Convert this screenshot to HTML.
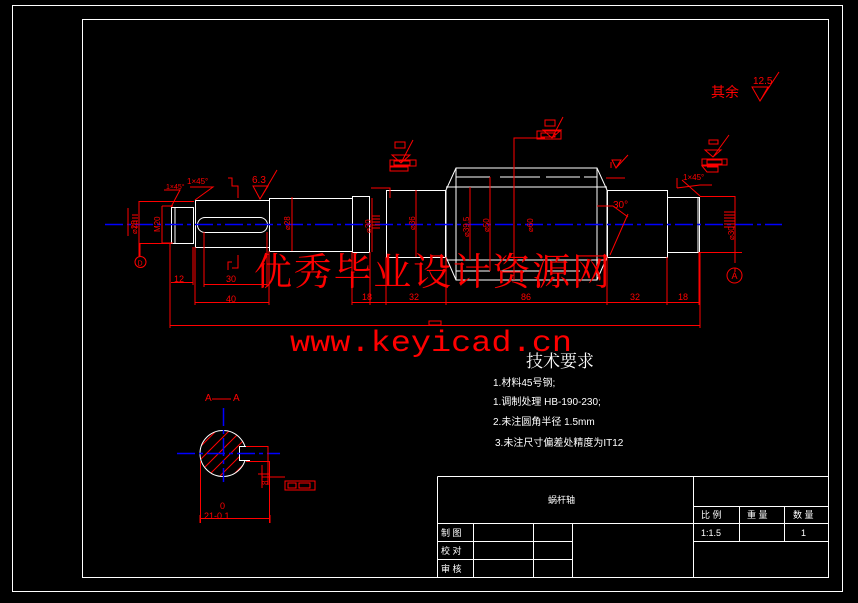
<!DOCTYPE html>
<html><head><meta charset="utf-8"><style>
html,body{margin:0;padding:0;background:#000;}
svg{display:block}
</style></head><body>
<svg width="858" height="603" viewBox="0 0 858 603" xmlns="http://www.w3.org/2000/svg" font-family="Liberation Sans, Noto Sans CJK SC, sans-serif">
<defs><clipPath id="cc"><circle cx="223" cy="453.5" r="23"/></clipPath></defs>
<rect width="858" height="603" fill="#000"/>
<g fill="none" stroke="#fff" stroke-width="1">
<rect x="12.5" y="5.5" width="830" height="586"/>
<rect x="82.5" y="19.5" width="746" height="558"/>
<path d="M437.5 476.5H828.5M437.5 476.5V577M693.5 476.5V577M693.5 506.5H828.5M437.5 523.5H828.5M437.5 541.5H572.5M437.5 559.5H572.5M693.5 541.5H828.5M473.5 523.5V577M533.5 523.5V577M572.5 523.5V577M739.5 506.5V541.5M784.5 506.5V541.5"/>
<rect x="171.5" y="207.5" width="22" height="36"/>
<path d="M175 207V243"/>
<rect x="195.5" y="200.5" width="74" height="47"/>
<rect x="197.5" y="217.5" width="70" height="15" rx="7.5"/>
<rect x="269.5" y="198.5" width="83" height="53"/>
<rect x="352.5" y="196.5" width="17" height="56"/>
<rect x="386.5" y="190.5" width="59" height="67"/>
<path d="M446 190L456 168H597L607 190V257L597 280H456L446 257Z"/>
<path d="M456 168V280M597 168V280M446 187H607M446 260H607"/>
<path d="M456 177H490M500 177H540M546 177H580M584 177H597M456 271H490M500 271H540M546 271H580"/>
<rect x="607.5" y="190.5" width="60" height="67"/>
<rect x="667.5" y="197.5" width="32" height="55"/>
<path d="M698 197V252"/>
</g>
<g clip-path="url(#cc)" stroke="#f00" stroke-width="1">
<path d="M190 470L230 430M190 482L242 430M195 489L250 434M205 491L252 444M215 493L255 453M225 495L258 462M185 462L220 427"/>
</g>
<circle cx="223" cy="453.5" r="23" fill="none" stroke="#fff"/>
<rect x="239.5" y="446.5" width="10" height="14" fill="#000" stroke="#fff"/>
<rect x="247" y="447" width="6" height="13" fill="#000"/>
<g stroke="#00f" stroke-width="1.5" stroke-dasharray="18 4 4 4">
<line x1="105" y1="224.5" x2="782" y2="224.5"/>
<line x1="177" y1="453.5" x2="280" y2="453.5"/>
<line x1="223.5" y1="408" x2="223.5" y2="482"/>
</g>
<g fill="none" stroke="#f00" stroke-width="1">
<path d="M246 446.5H268V449M246 461.5H270M268 449V461"/>
<path d="M268 462V485M262 465V488M258 474H270M262 477H285M285 481H315V490H285ZM288 483H296V488H288ZM299 483H310V488H299Z"/>
<path d="M200.5 461V523M269.5 461V523M200 518.5H270M200 515V523M270 515V523"/>
<path d="M212 399H231"/>
<path d="M170 243V328M170 325.5H700M700 252V328"/>
<path d="M171 282.5H193M193 247V285M195 302.5H269M195 247V305M269 251V305M204 284.5H267M204 232V287M267 232V287"/>
<path d="M352 302.5H700M352 252V305M370 252V305M386 257V305M446 257V305M607 257V305M667 257V305M699 252V305"/>
<path d="M139 243.5H171M139 201V257M139 201.5H194M128 208V236M132 215H138M132 218H138M132 221H138M132 224H138M132 227H138"/>
<path d="M162 206H173M162 243H173M162 206V243"/>
<path d="M164 190H180L171 207M190 187H213L195 200"/>
<path d="M228 178H232V186H238V198M232 268H238V255M232 262H228V270"/>
<path d="M253 186H268L260 199ZM260 199L277 170"/>
<path d="M292 197V251M372 198V252M371 188H390V198M372 216H380M372 219H380M372 222H380M372 225H380M372 228H380"/>
<path d="M395 148H405V142H395ZM392 155H410L401 163ZM401 163L413 140M390 160H416V166H390ZM394 161H410V165H394ZM390 167H408V171H390Z"/>
<path d="M416 190V257"/>
<path d="M470 187V260M490 177V271M514 168V280M514 168V138H545"/>
<path d="M545 126V120H555V126ZM543 130H561L552 138ZM552 138L563 117M537 131H561V139H537ZM541 133H555V137H541Z"/>
<path d="M612 160H621L616 168ZM616 168L628 155M611 168V162M606 178H625"/>
<path d="M597 206H613L628 217M628 214L610 255"/>
<path d="M677 178V188M677 188L700 185H712M682 180L700 196"/>
<path d="M709 144H718V140H709ZM705 150H721L713 157ZM713 157L729 135M702 159H727V165H702ZM707 160H722V164H707ZM702 166H718V172H707ZM707 167H718"/>
<path d="M700 196.5H735M735 196V257M700 252.5H742M735 257V263M735 268V272"/>
<path d="M724 212H735M724 215H735M724 218H735M724 221H735M724 224H735M724 227H735"/>
<circle cx="734.5" cy="275.5" r="7.5"/>
<circle cx="140.5" cy="262" r="5.5"/>
<path d="M140 243V256"/>
<path d="M752 87H768L760 101ZM760 101L779 72"/>
<path d="M429 321H441V325H429Z"/>
</g>
<g fill="#f00" font-size="9">
<text x="174" y="282">12</text>
<text x="226" y="282">30</text>
<text x="226" y="302">40</text>
<text x="362" y="300">18</text>
<text x="409" y="300">32</text>
<text x="521" y="300">86</text>
<text x="630" y="300">32</text>
<text x="678" y="300">18</text>
<text x="166" y="189" font-size="7">1×45°</text>
<text x="187" y="184" font-size="8">1×45°</text>
<text x="683" y="180" font-size="8">1×45°</text>
<text x="252" y="183" font-size="10">6.3</text>
<text x="753" y="84" font-size="10">12.5</text>
<text x="711" y="97" font-size="14">其余</text>
<text x="613" y="208" font-size="10">30°</text>
<text x="205" y="401" font-size="10">A</text>
<text x="233" y="401" font-size="10">A</text>
<text x="220" y="509" font-size="9">0</text>
<text x="204" y="519" font-size="9">21-0.1</text>
<text x="137.5" y="265.5" font-size="7">D</text>
<text x="731.5" y="279" font-size="9">A</text>
<g font-size="8">
<text transform="translate(137,234) rotate(-90)">⌀25</text>
<text transform="translate(160,232) rotate(-90)">M20</text>
<text transform="translate(290,230) rotate(-90)">⌀28</text>
<text transform="translate(371,233) rotate(-90)">⌀30</text>
<text transform="translate(415,230) rotate(-90)">⌀36</text>
<text transform="translate(469,237) rotate(-90)">⌀39.5</text>
<text transform="translate(489,232) rotate(-90)">⌀50</text>
<text transform="translate(533,232) rotate(-90)">⌀60</text>
<text transform="translate(734,240) rotate(-90)">⌀30</text>
<text transform="translate(268,485) rotate(-90)">8</text>
</g>
</g>
<text x="254" y="285" fill="#f00" font-size="38" style="font-family:'Noto Serif CJK SC','Liberation Serif',serif" textLength="356">优秀毕业设计资源网</text>
<text x="290" y="351" fill="#f00" font-size="30" style="font-family:'Liberation Mono',monospace" textLength="282" lengthAdjust="spacingAndGlyphs">www.keyicad.cn</text>
<g fill="#fff">
<text x="526" y="367" font-size="17" style="font-family:'Noto Serif CJK SC',serif">技术要求</text>
<text x="493" y="386" font-size="10">1.材料45号钢;</text>
<text x="493" y="405" font-size="10">1.调制处理 HB-190-230;</text>
<text x="493" y="425" font-size="10">2.未注圆角半径 1.5mm</text>
<text x="495" y="446" font-size="10">3.未注尺寸偏差处精度为IT12</text>
<text x="548" y="503" font-size="9">蜗杆轴</text>
<text x="441" y="536" font-size="9">制 图</text>
<text x="441" y="554" font-size="9">校 对</text>
<text x="441" y="572" font-size="9">审 核</text>
<text x="701" y="518" font-size="9">比 例</text>
<text x="747" y="518" font-size="9">重 量</text>
<text x="793" y="518" font-size="9">数 量</text>
<text x="701" y="536" font-size="9">1:1.5</text>
<text x="801" y="536" font-size="9">1</text>
</g>
</svg>
</body></html>
